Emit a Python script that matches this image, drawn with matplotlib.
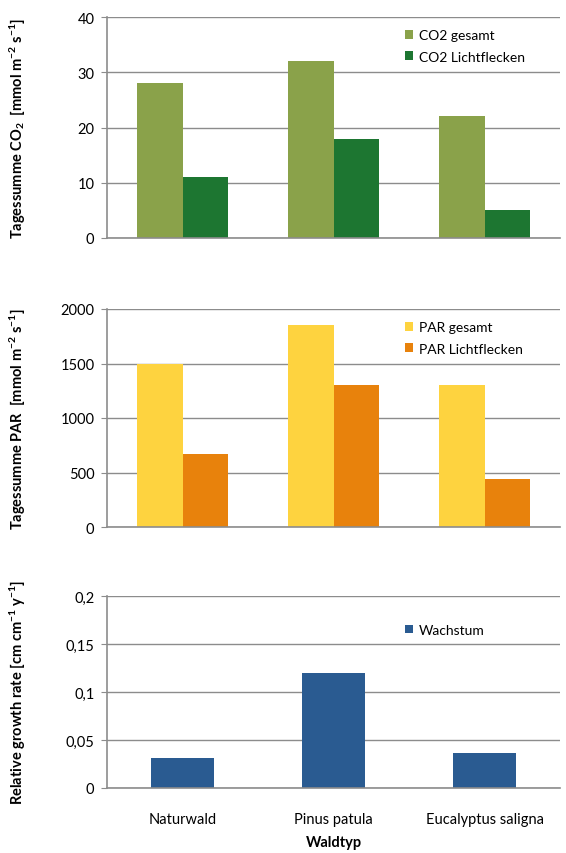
import numpy as np
import matplotlib.pyplot as plt
from matplotlib.ticker import FuncFormatter

plt.rcParams['font.family'] = ['Lato', 'DejaVu Sans']
plt.rcParams['mathtext.fontset'] = 'custom'
plt.rcParams['mathtext.rm'] = 'Lato'
plt.rcParams['mathtext.bf'] = 'Lato:bold'
plt.rcParams['mathtext.default'] = 'bf'

waldtyp = ['Naturwald', 'Pinus patula', 'Eucalyptus saligna']
co2_gesamt = [28, 32, 22]
co2_licht = [11, 18, 5]
par_gesamt = [1500, 1850, 1300]
par_licht = [670, 1300, 440]
wachstum = [0.031, 0.12, 0.036]

GRID = '#8c8c8c'
x = np.arange(len(waldtyp))

fig = plt.figure(figsize=(5.66, 8.54), dpi=100)
W, H = 566, 854

def achse(top, bottom):
    ax = fig.add_axes([107 / W, 1 - bottom / H, 453 / W, (bottom - top) / H])
    ax.set_xlim(-0.5, 2.5)
    for s in ['top', 'right']:
        ax.spines[s].set_visible(False)
    for s in ['left', 'bottom']:
        ax.spines[s].set_color(GRID)
        ax.spines[s].set_linewidth(1.2)
    ax.yaxis.grid(True, color=GRID, linewidth=1.0)
    ax.set_axisbelow(True)
    ax.tick_params(axis='y', length=4, color=GRID, labelsize=10.5, pad=5)
    ax.tick_params(axis='x', length=0, labelsize=10.5, pad=17)
    ax.set_xticks(x)
    return ax

def legende(ax, loc_y):
    leg = ax.legend(loc='upper left', bbox_to_anchor=(0.63, loc_y), frameon=False,
                    fontsize=10, handlelength=0.6, handleheight=0.6,
                    handletextpad=0.4, labelspacing=0.65)
    return leg

b = 0.3

# CO2
ax1 = achse(18, 239)
ax1.bar(x - b / 2, co2_gesamt, b, color='#8aa24a', label='CO2 gesamt')
ax1.bar(x + b / 2, co2_licht, b, color='#1d7631', label='CO2 Lichtflecken')
ax1.set_ylim(0, 40)
ax1.set_yticks([0, 10, 20, 30, 40])
ax1.set_xticklabels([])
ax1.set_ylabel('Tagessumme CO$_2$  [mmol m$^{-2}$ s$^{-1}$]', fontsize=10.5,
               fontweight='bold')
legende(ax1, 1.0)

# PAR
ax2 = achse(310, 528)
ax2.bar(x - b / 2, par_gesamt, b, color='#fed33f', label='PAR gesamt')
ax2.bar(x + b / 2, par_licht, b, color='#e8820c', label='PAR Lichtflecken')
ax2.set_ylim(0, 2000)
ax2.set_yticks([0, 500, 1000, 1500, 2000])
ax2.set_xticklabels([])
ax2.set_ylabel('Tagessumme PAR  [mmol m$^{-2}$ s$^{-1}$]', fontsize=10.5,
               fontweight='bold')
legende(ax2, 1.0)

# Wachstum
ax3 = achse(597, 789)
ax3.bar(x, wachstum, 0.42, color='#2a5b91', label='Wachstum')
ax3.set_ylim(0, 0.2)
ax3.set_yticks([0, 0.05, 0.1, 0.15, 0.2])
ax3.yaxis.set_major_formatter(FuncFormatter(lambda v, p: ('%g' % round(v, 3)).replace('.', ',')))
ax3.set_xticklabels(waldtyp)
ax3.set_ylabel('Relative growth rate [cm cm$^{-1}$ y$^{-1}$]', fontsize=10.5,
               fontweight='bold')
ax3.set_xlabel('Waldtyp', fontsize=10.5, fontweight='bold', labelpad=7)
legende(ax3, 0.92)

for ax in (ax1, ax2, ax3):
    ax.yaxis.set_label_coords(-0.175, 0.5)

fig.savefig('out.png', dpi=100)
